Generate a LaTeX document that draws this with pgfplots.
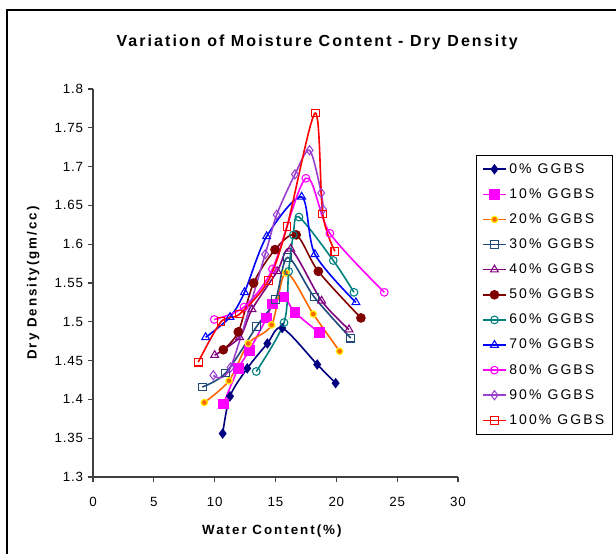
\documentclass[border=0pt]{standalone}
\usepackage{pgfplots}
\pgfplotsset{compat=1.18}
\usepackage{fontspec}
\setmainfont{Liberation Sans}
\newfontfamily\titlefont[LetterSpace=13]{Liberation Sans}
\newfontfamily\labelfont[LetterSpace=15]{Liberation Sans}
\newfontfamily\tickfont[LetterSpace=6]{Liberation Sans}
\newfontfamily\legfont[LetterSpace=15]{Liberation Sans}
\definecolor{c0}{HTML}{000080}
\definecolor{c10}{HTML}{FF00FF}
\definecolor{c20}{HTML}{FF6600}
\definecolor{c30}{HTML}{204A7A}
\definecolor{c40}{HTML}{800080}
\definecolor{c50}{HTML}{800000}
\definecolor{c60}{HTML}{008080}
\definecolor{c70}{HTML}{0000FF}
\definecolor{c80}{HTML}{FF00FF}
\definecolor{c90}{HTML}{9A40D0}
\definecolor{c100}{HTML}{FF0000}
\begin{document}
\begin{tikzpicture}
\path[use as bounding box] (-69.75pt,-57.75pt) rectangle (392.25pt,357.75pt);
\begin{axis}[
  at={(0,0)}, anchor=south west,
  scale only axis, width=273.75pt, height=291pt,
  xmin=0, xmax=30, ymin=1.3, ymax=1.8,
  xtick={0,5,10,15,20,25,30},
  ytick={1.3,1.35,1.4,1.45,1.5,1.55,1.6,1.65,1.7,1.75,1.8},
  axis x line=bottom, axis y line=left,
  axis line style={-, color=black!75, line width=0.8pt},
  tick align=outside, major tick length=4pt,
  tick style={color=black!75, line width=0.8pt},
  /pgf/number format/assume math mode=true,
  /pgf/number format/fixed,
  ticklabel style={font=\tickfont\fontsize{10}{12}\selectfont},
  xticklabel style={yshift=-7.5pt},
  title={\titlefont\bfseries\fontsize{12}{14}\selectfont Variation of Moisture Content - Dry Density},
  title style={at={(axis description cs:0.614,1.100)}, anchor=center},
  xlabel={\labelfont\bfseries\fontsize{10}{12}\selectfont Water Content(\%)},
  xlabel style={at={(axis description cs:0.49,-0.139)}, anchor=center},
  ylabel={\labelfont\bfseries\fontsize{10}{12}\selectfont Dry Density(gm/cc)},
  ylabel style={at={(axis description cs:-0.164,0.5)}, anchor=center},
  legend style={at={(axis description cs:1.049,0.830)}, anchor=north west,
    draw=black, line width=0.6pt, font=\legfont\fontsize{10.5}{12}\selectfont,
    row sep=6pt, inner xsep=4.5pt, inner ysep=4pt},
  legend cell align=left,
  every axis plot/.append style={line width=1.2pt, smooth, tension=0.5},
]
\addplot[c0, mark=diamond*, mark size=3pt, mark options={solid, fill=c0}] coordinates {
(10.66,1.356) (11.26,1.404) (12.68,1.440) (14.33,1.472) (15.55,1.492) (18.43,1.445) (19.94,1.421)};
\addlegendentry{0\% GGBS}
\addplot[c10, mark=square*, mark size=3.4pt, mark options={solid, fill=c10}] coordinates {
(10.71,1.394) (11.94,1.440) (12.85,1.463) (14.27,1.505) (14.75,1.523) (15.69,1.532) (16.6,1.512) (18.6,1.486)};
\addlegendentry{10\% GGBS}
\addplot[c20, mark=*, mark size=2.4pt, mark options={solid, fill=c20, draw=yellow, line width=0.9pt}] coordinates {
(9.15,1.396) (11.18,1.424) (12.76,1.472) (14.68,1.496) (15.85,1.563) (18.1,1.510) (20.27,1.462)};
\addlegendentry{20\% GGBS}
\addplot[c30, mark=square, mark size=2.9pt, mark options={solid, fill=white, line width=0.8pt}] coordinates {
(8.98,1.416) (10.90,1.434) (13.45,1.494) (15.01,1.529) (16.0,1.583) (18.18,1.532) (21.18,1.479)};
\addlegendentry{30\% GGBS}
\addplot[c40, mark=triangle, mark size=3.4pt, mark options={solid, fill=white, line width=0.8pt}] coordinates {
(10.0,1.457) (12.05,1.480) (13.07,1.516) (15.14,1.565) (16.25,1.594) (18.79,1.527) (21.04,1.490)};
\addlegendentry{40\% GGBS}
\addplot[c50, mark=*, mark size=3pt, mark options={solid, fill=c50}] coordinates {
(10.71,1.464) (11.94,1.487) (13.2,1.550) (14.96,1.593) (16.7,1.612) (18.52,1.565) (22.02,1.505)};
\addlegendentry{50\% GGBS}
\addplot[c60, mark=o, mark size=2.9pt, mark options={solid, fill=white, line width=0.8pt}] coordinates {
(13.42,1.436) (15.7,1.499) (16.08,1.565) (16.46,1.612) (16.93,1.635) (19.75,1.579) (21.45,1.538)};
\addlegendentry{60\% GGBS}
\addplot[c70, mark=triangle, mark size=3.4pt, mark options={solid, fill=white, line width=0.8pt}] coordinates {
(9.26,1.480) (11.26,1.506) (12.45,1.538) (14.27,1.610) (17.15,1.661) (18.24,1.587) (21.61,1.525)};
\addlegendentry{70\% GGBS}
\addplot[c80, mark=o, mark size=2.9pt, mark options={solid, fill=white, line width=0.8pt}] coordinates {
(9.97,1.503) (12.41,1.519) (14.75,1.568) (17.5,1.685) (19.47,1.614) (23.94,1.538)};
\addlegendentry{80\% GGBS}
\addplot[c90, mark=diamond, mark size=3.4pt, mark options={solid, fill=white, line width=0.8pt}] coordinates {
(9.89,1.431) (11.3,1.441) (14.15,1.587) (15.1,1.638) (16.6,1.690) (17.8,1.721) (18.76,1.666) (18.9,1.645)};
\addlegendentry{90\% GGBS}
\addplot[c100, mark=square, mark size=2.9pt, mark options={solid, fill=white, line width=0.8pt}] coordinates {
(8.65,1.448) (10.52,1.500) (12.05,1.510) (14.41,1.553) (15.95,1.623) (18.27,1.769) (18.88,1.639) (19.88,1.591)};
\addlegendentry{100\% GGBS}
\end{axis}
\draw[line width=1.2pt] (-64.5pt,-57.75pt) -- (-64.5pt,350.25pt) -- (392.25pt,350.25pt);
\end{tikzpicture}
\end{document}
